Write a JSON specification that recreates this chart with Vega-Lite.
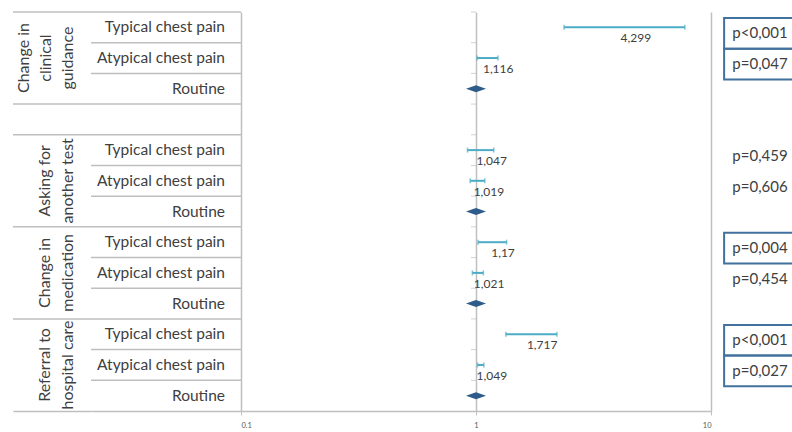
{
  "$schema": "https://vega.github.io/schema/vega-lite/v6.json",
  "background": "white",
  "padding": {"left": 12, "top": 11, "right": 0, "bottom": 0},
  "bounds": "flush",
  "spacing": 0,
  "config": {"view": {"stroke": null}, "font": "Lato", "concat": {"spacing": 0}},
  "datasets": {
    "rows": [
      {"row": "A1", "label": "Typical chest pain", "full": true},
      {"row": "A2", "label": "Atypical chest pain", "full": false},
      {"row": "A3", "label": "Routine", "full": false},
      {"row": "G", "label": "", "full": true},
      {"row": "B1", "label": "Typical chest pain", "full": true},
      {"row": "B2", "label": "Atypical chest pain", "full": false},
      {"row": "B3", "label": "Routine", "full": false},
      {"row": "C1", "label": "Typical chest pain", "full": true},
      {"row": "C2", "label": "Atypical chest pain", "full": false},
      {"row": "C3", "label": "Routine", "full": false},
      {"row": "D1", "label": "Typical chest pain", "full": true},
      {"row": "D2", "label": "Atypical chest pain", "full": false},
      {"row": "D3", "label": "Routine", "full": false}
    ],
    "groups": [
      {"row": "A2", "group": "Change in\nclinical\nguidance", "lines": 3},
      {"row": "B2", "group": "Asking for\nanother test", "lines": 2},
      {"row": "C2", "group": "Change in\nmedication", "lines": 2},
      {"row": "D2", "group": "Referral to\nhospital care", "lines": 2}
    ],
    "forest": [
      {"row": "A1", "or": 4.299, "lo": 2.37, "hi": 7.74, "lab": "4,299", "routine": false},
      {"row": "A2", "or": 1.116, "lo": 1.01, "hi": 1.24, "lab": "1,116", "routine": false},
      {"row": "A3", "or": 1, "lo": null, "hi": null, "lab": "", "routine": true},
      {"row": "B1", "or": 1.047, "lo": 0.92, "hi": 1.19, "lab": "1,047", "routine": false},
      {"row": "B2", "or": 1.019, "lo": 0.945, "hi": 1.09, "lab": "1,019", "routine": false},
      {"row": "B3", "or": 1, "lo": null, "hi": null, "lab": "", "routine": true},
      {"row": "C1", "or": 1.17, "lo": 1.02, "hi": 1.35, "lab": "1,17", "routine": false},
      {"row": "C2", "or": 1.021, "lo": 0.965, "hi": 1.075, "lab": "1,021", "routine": false},
      {"row": "C3", "or": 1, "lo": null, "hi": null, "lab": "", "routine": true},
      {"row": "D1", "or": 1.717, "lo": 1.34, "hi": 2.21, "lab": "1,717", "routine": false},
      {"row": "D2", "or": 1.049, "lo": 1.015, "hi": 1.08, "lab": "1,049", "routine": false},
      {"row": "D3", "or": 1, "lo": null, "hi": null, "lab": "", "routine": true}
    ],
    "pvals": [
      {"row": "A1", "p": "p<0,001", "boxed": true},
      {"row": "A2", "p": "p=0,047", "boxed": true},
      {"row": "B1", "p": "p=0,459", "boxed": false},
      {"row": "B2", "p": "p=0,606", "boxed": false},
      {"row": "C1", "p": "p=0,004", "boxed": true},
      {"row": "C2", "p": "p=0,454", "boxed": false},
      {"row": "D1", "p": "p<0,001", "boxed": true},
      {"row": "D2", "p": "p=0,027", "boxed": true}
    ]
  },
  "hconcat": [
    {
      "width": 78,
      "height": 399,
      "layer": [
        {
          "data": {"name": "rows"},
          "transform": [{"filter": "datum.full"}],
          "mark": {"type": "rule", "color": "#BFBFBF", "strokeWidth": 1.5},
          "encoding": {
            "y": {"field": "row", "type": "nominal", "bandPosition": 0, "scale": {"domain": ["A1","A2","A3","G","B1","B2","B3","C1","C2","C3","D1","D2","D3"], "paddingInner": 0, "paddingOuter": 0}, "axis": null}
          }
        },
        {
          "data": {"name": "groups"},
          "transform": [{"filter": "datum.lines == 3"}],
          "mark": {"type": "text", "angle": 270, "fontSize": 16, "color": "#404040", "lineHeight": 22, "lineBreak": "\n", "align": "center", "baseline": "middle", "dy": -28},
          "encoding": {
            "x": {"datum": 0.5, "type": "quantitative", "scale": {"domain": [0, 1]}, "axis": {"domain": true, "domainColor": "#BFBFBF", "domainWidth": 1.5, "labels": false, "ticks": false, "grid": false, "title": null}},
            "y": {"field": "row", "type": "nominal", "axis": null},
            "text": {"field": "group"}
          }
        },
        {
          "data": {"name": "groups"},
          "transform": [{"filter": "datum.lines == 2"}],
          "mark": {"type": "text", "angle": 270, "fontSize": 16, "color": "#404040", "lineHeight": 23, "lineBreak": "\n", "align": "center", "baseline": "middle", "dy": -7},
          "encoding": {
            "x": {"datum": 0.5, "type": "quantitative"},
            "y": {"field": "row", "type": "nominal", "axis": null},
            "text": {"field": "group"}
          }
        }
      ]
    },
    {
      "width": 150,
      "height": 399,
      "layer": [
        {
          "data": {"name": "rows"},
          "mark": {"type": "rule", "color": "#BFBFBF", "strokeWidth": 1.5},
          "encoding": {
            "y": {"field": "row", "type": "nominal", "bandPosition": 0, "scale": {"domain": ["A1","A2","A3","G","B1","B2","B3","C1","C2","C3","D1","D2","D3"], "paddingInner": 0, "paddingOuter": 0}, "axis": null}
          }
        },
        {
          "data": {"name": "rows"},
          "mark": {"type": "text", "fontSize": 15.5, "color": "#404040", "align": "right", "baseline": "middle", "dx": -16},
          "encoding": {
            "x": {"datum": 1, "type": "quantitative", "scale": {"domain": [0, 1]}, "axis": {"domain": true, "domainColor": "#BFBFBF", "domainWidth": 1.5, "labels": false, "ticks": false, "grid": false, "title": null}},
            "y": {"field": "row", "type": "nominal", "axis": null},
            "text": {"field": "label"}
          }
        }
      ]
    },
    {
      "width": 470,
      "height": 399,
      "layer": [
        {
          "data": {"name": "rows"},
          "mark": {"type": "tick", "orient": "horizontal", "color": "#BFBFBF", "size": 5, "thickness": 1, "xOffset": -2.5},
          "encoding": {
            "x": {"datum": 1, "type": "quantitative", "scale": {"type": "log", "domain": [0.1, 10]}, "axis": {"values": [0.1, 1, 10], "format": "~g", "title": null, "labelFontSize": 7.5, "labelColor": "#595959", "domainColor": "#BFBFBF", "domainWidth": 1.5, "tickColor": "#BFBFBF", "tickSize": 4, "labelPadding": 6, "grid": true, "gridColor": "#BFBFBF", "gridWidth": 1.5}},
            "y": {"field": "row", "type": "nominal", "bandPosition": 0, "scale": {"domain": ["A1","A2","A3","G","B1","B2","B3","C1","C2","C3","D1","D2","D3"], "paddingInner": 0, "paddingOuter": 0}, "axis": null}
          }
        },
        {
          "data": {"name": "forest"},
          "transform": [{"filter": "!datum.routine"}],
          "mark": {"type": "rule", "color": "#4BACC6", "strokeWidth": 2},
          "encoding": {
            "x": {"field": "lo", "type": "quantitative"},
            "x2": {"field": "hi"},
            "y": {"field": "row", "type": "nominal", "axis": null}
          }
        },
        {
          "data": {"name": "forest"},
          "transform": [{"filter": "!datum.routine"}, {"fold": ["lo", "hi"], "as": ["end", "val"]}],
          "mark": {"type": "tick", "orient": "vertical", "color": "#4BACC6", "size": 5, "thickness": 1.5},
          "encoding": {
            "x": {"field": "val", "type": "quantitative"},
            "y": {"field": "row", "type": "nominal", "axis": null}
          }
        },
        {
          "data": {"name": "forest"},
          "transform": [{"filter": "datum.routine"}],
          "mark": {"type": "point", "shape": "M-1,0L0,-0.35L1,0L0,0.35Z", "size": 400, "filled": true, "opacity": 1, "color": "#2E5C8A"},
          "encoding": {
            "x": {"field": "or", "type": "quantitative"},
            "y": {"field": "row", "type": "nominal", "axis": null}
          }
        },
        {
          "data": {"name": "forest"},
          "transform": [{"filter": "!datum.routine"}],
          "mark": {"type": "text", "fontSize": 12, "color": "#404040", "align": "center", "baseline": "middle", "dx": 11, "dy": 11},
          "encoding": {
            "x": {"field": "or", "type": "quantitative"},
            "y": {"field": "row", "type": "nominal", "axis": null},
            "text": {"field": "lab"}
          }
        }
      ]
    },
    {
      "width": 82,
      "height": 399,
      "layer": [
        {
          "data": {"name": "pvals"},
          "transform": [{"filter": "datum.boxed"}],
          "mark": {"type": "rect", "filled": false, "stroke": "#41719C", "strokeWidth": 2, "clip": true, "yOffset": 6},
          "encoding": {
            "x": {"datum": 0.16, "type": "quantitative", "scale": {"domain": [0, 1]}, "axis": null},
            "x2": {"datum": 1.5},
            "y": {"field": "row", "type": "nominal", "scale": {"domain": ["A1","A2","A3","G","B1","B2","B3","C1","C2","C3","D1","D2","D3"], "paddingInner": 0, "paddingOuter": 0}, "axis": null}
          }
        },
        {
          "data": {"name": "pvals"},
          "mark": {"type": "text", "fontSize": 15, "color": "#404040", "align": "left", "baseline": "middle", "dy": 6},
          "encoding": {
            "x": {"datum": 0.26, "type": "quantitative"},
            "y": {"field": "row", "type": "nominal", "axis": null},
            "text": {"field": "p"}
          }
        }
      ]
    }
  ]
}
